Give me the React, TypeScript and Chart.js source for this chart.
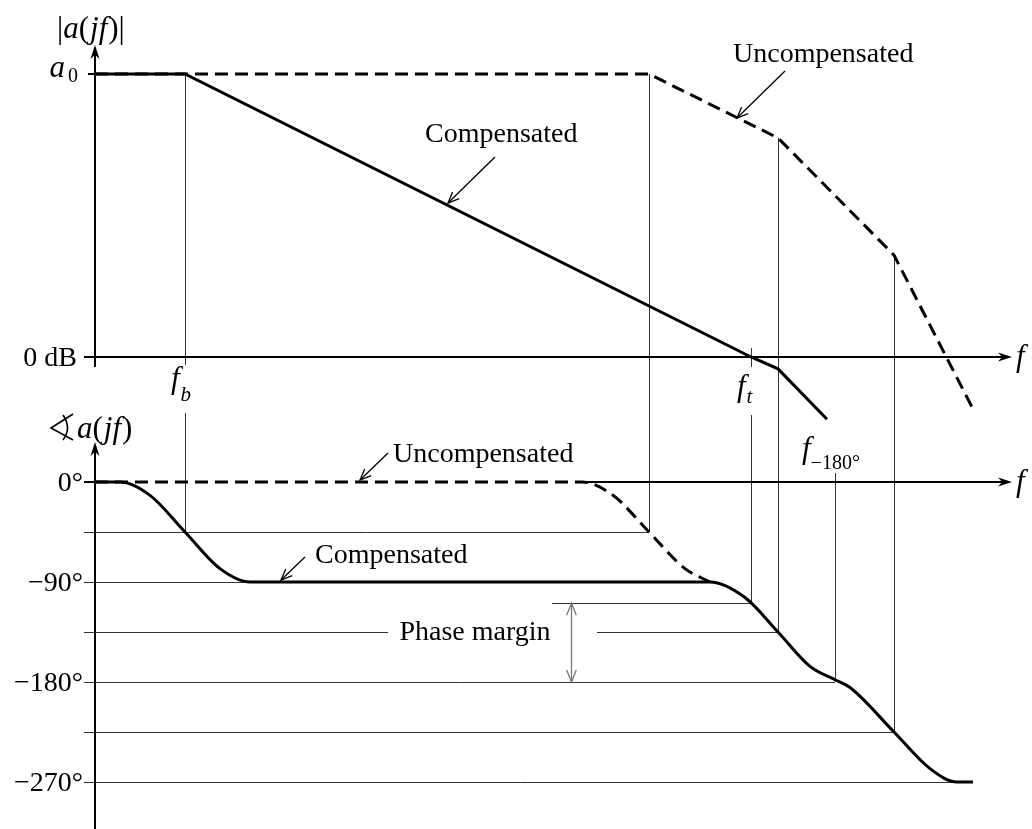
import { useEffect, useRef } from 'react';
import { Chart, registerables } from 'chart.js';

Chart.register(...registerables);

// Horizontal axis: log10 of frequency, in decades from the origin.
// Magnitude in dB, phase in degrees.
const magCompensatedFreq = [0, 0.9, 6.56, 6.83, 7.32];
const magCompensatedDb = [100, 100, 0, -4.2, -22];
const magUncompensatedFreq = [0, 0.9, 5.54, 6.83, 7.99, 8.77];
const magUncompensatedDb = [100, 100, 100, 77.4, 36, -17.7];

const phaseCompensatedFreq = [0, 0.25, 0.55, 0.9, 1.25, 1.55, 6.15, 6.5, 6.83, 7.15, 7.4, 7.55, 7.99, 8.35, 8.62, 8.78];
const phaseCompensatedDeg = [0, 0, -12, -45, -78, -90, -90, -104, -135, -166, -178, -185, -225, -258, -270, -270];
const phaseUncompensatedFreq = [0, 4.87, 5.18, 5.54, 5.9, 6.15];
const phaseUncompensatedDeg = [0, 0, -12, -45, -78, -90];

// Characteristic frequencies (log10 f)
const fB = 0.9;
const f1 = 5.54;
const fT = 6.56;
const f2 = 6.83;
const f180 = 7.4;
const f3 = 7.99;
const a0Db = 100;
const magAtF2 = 77.4;
const magAtF3 = 36;
const phaseAtFt = -109;

// Phase reference levels and their tick labels
const phaseGuideLevels = [-45, -90, -135, -180, -225, -270];
const phaseTickValues = [0, -90, -180, -270];
const phaseTickLabels = ['0°', '\u221290°', '\u2212180°', '\u2212270°'];

const SERIF = "'Liberation Serif', 'Times New Roman', 'DejaVu Serif', serif";
const FS = 28;
const MATH = 31;

type Run = { t: string; i?: boolean; size?: number; dy?: number; dx?: number };

function drawRuns(ctx: CanvasRenderingContext2D, runs: Run[], x: number, y: number, align: 'left' | 'center' | 'right' = 'left') {
  const fontFor = (r: Run) => `${r.i ? 'italic ' : ''}${r.size ?? FS}px ${SERIF}`;
  let total = 0;
  const widths = runs.map((r) => {
    ctx.font = fontFor(r);
    const w = ctx.measureText(r.t).width + (r.dx ?? 0);
    total += w;
    return w;
  });
  let cx = align === 'left' ? x : align === 'center' ? x - total / 2 : x - total;
  ctx.textAlign = 'left';
  ctx.textBaseline = 'alphabetic';
  runs.forEach((r, k) => {
    ctx.font = fontFor(r);
    ctx.fillText(r.t, cx + (r.dx ?? 0), y + (r.dy ?? 0));
    cx += widths[k];
  });
}

function seg(ctx: CanvasRenderingContext2D, x1: number, y1: number, x2: number, y2: number) {
  ctx.beginPath();
  ctx.moveTo(x1, y1);
  ctx.lineTo(x2, y2);
  ctx.stroke();
}

function openHead(ctx: CanvasRenderingContext2D, fx: number, fy: number, tx: number, ty: number, len = 11, spread = 0.4) {
  const a = Math.atan2(ty - fy, tx - fx);
  ctx.beginPath();
  ctx.moveTo(tx - len * Math.cos(a - spread), ty - len * Math.sin(a - spread));
  ctx.lineTo(tx, ty);
  ctx.lineTo(tx - len * Math.cos(a + spread), ty - len * Math.sin(a + spread));
  ctx.stroke();
}

function solidHead(ctx: CanvasRenderingContext2D, dirX: number, dirY: number, tx: number, ty: number, len = 14, half = 4.5) {
  const nx = -dirY;
  const ny = dirX;
  ctx.beginPath();
  ctx.moveTo(tx, ty);
  ctx.lineTo(tx - dirX * len + nx * half, ty - dirY * len + ny * half);
  ctx.lineTo(tx - dirX * len * 0.7, ty - dirY * len * 0.7);
  ctx.lineTo(tx - dirX * len - nx * half, ty - dirY * len - ny * half);
  ctx.closePath();
  ctx.fill();
}

// Measured-angle sign: a "<" with an arc across its legs
function angleSign(ctx: CanvasRenderingContext2D, x: number, yMid: number) {
  ctx.save();
  ctx.lineWidth = 1.6;
  ctx.beginPath();
  ctx.moveTo(x + 23, yMid - 14);
  ctx.lineTo(x + 1, yMid);
  ctx.lineTo(x + 23, yMid + 12);
  ctx.stroke();
  ctx.beginPath();
  ctx.moveTo(x + 13, yMid - 13);
  ctx.quadraticCurveTo(x + 22, yMid, x + 13, yMid + 12);
  ctx.stroke();
  ctx.restore();
}

const bodeDecor = {
  id: 'bodeDecor',
  beforeDatasetsDraw(chart: any) {
    const ctx: CanvasRenderingContext2D = chart.ctx;
    const { x: sx, yMag: sm, yPhase: sp } = chart.scales;
    const X = (v: number) => sx.getPixelForValue(v);
    const M = (v: number) => sm.getPixelForValue(v);
    const P = (v: number) => sp.getPixelForValue(v);
    const c = (v: number) => Math.round(v) + 0.5;
    const ax = Math.round(X(0));
    const left = ax - 11;
    const bottom = chart.chartArea.bottom;

    ctx.save();
    // thin construction lines
    ctx.strokeStyle = '#333';
    ctx.lineWidth = 1;
    const vline = (f: number, y1: number, y2: number) => seg(ctx, c(X(f)), y1, c(X(f)), y2);
    const hline = (deg: number, x1: number, x2: number) => seg(ctx, x1, c(P(deg)), x2, c(P(deg)));
    vline(fB, M(a0Db), M(0) + 8);
    vline(fB, P(0) - 69, P(-45));
    vline(f1, M(a0Db), P(-45));
    vline(fT, M(0) - 9, M(0) + 10);
    vline(fT, M(0) + 58, P(phaseAtFt));
    vline(f2, M(magAtF2), P(-135));
    vline(f180, P(0) - 9, P(-180));
    vline(f3, M(magAtF3), P(-225));

    const guideEnds = [f1, 1.55, f2, f180, f3, 8.62];
    phaseGuideLevels.forEach((deg, k) => {
      if (deg === -135) {
        hline(deg, left, ax + 293);
        hline(deg, ax + 502, X(guideEnds[k]));
      } else {
        hline(deg, left, X(guideEnds[k]));
      }
    });
    hline(phaseAtFt, X(fT) - 199, X(fT));

    // axes
    ctx.strokeStyle = '#000';
    ctx.fillStyle = '#000';
    ctx.lineWidth = 2;
    const axEnd = X(9.17);
    // magnitude
    const magTip = M(a0Db) - 29;
    seg(ctx, ax, M(0) + 10, ax, magTip + 8);
    solidHead(ctx, 0, -1, ax, magTip);
    seg(ctx, left, M(0), axEnd - 8, M(0));
    solidHead(ctx, 1, 0, axEnd, M(0));
    seg(ctx, ax - 7, M(a0Db), ax, M(a0Db));
    // phase
    const phaseTip = P(0) - 40;
    seg(ctx, ax, bottom, ax, phaseTip + 8);
    solidHead(ctx, 0, -1, ax, phaseTip);
    seg(ctx, left, P(0), ax, P(0));
    seg(ctx, X(4.87), P(0), axEnd - 8, P(0));
    solidHead(ctx, 1, 0, axEnd, P(0));

    // phase margin arrow
    const pmX = c(X(fT) - 180);
    ctx.strokeStyle = '#777';
    ctx.lineWidth = 1.3;
    seg(ctx, pmX, P(phaseAtFt), pmX, P(-180));
    openHead(ctx, pmX, P(-180), pmX, P(phaseAtFt), 13, 0.38);
    openHead(ctx, pmX, P(phaseAtFt), pmX, P(-180), 13, 0.38);
    ctx.restore();
  },
  afterDatasetsDraw(chart: any) {
    const ctx: CanvasRenderingContext2D = chart.ctx;
    const { x: sx, yMag: sm, yPhase: sp } = chart.scales;
    const X = (v: number) => sx.getPixelForValue(v);
    const M = (v: number) => sm.getPixelForValue(v);
    const P = (v: number) => sp.getPixelForValue(v);
    const ax = X(0);

    ctx.save();
    ctx.fillStyle = '#000';
    ctx.strokeStyle = '#000';

    // axis titles
    drawRuns(ctx, [{ t: '|', size: MATH }, { t: 'a', i: true, size: MATH }, { t: '(', size: MATH }, { t: 'jf', i: true, size: MATH, dx: 1 }, { t: ')', size: MATH, dx: 1 }, { t: '|', size: MATH }], 57, 38);
    angleSign(ctx, 50, 428);
    drawRuns(ctx, [{ t: 'a', i: true, size: MATH }, { t: '(', size: MATH }, { t: 'jf', i: true, size: MATH, dx: 1 }, { t: ')', size: MATH, dx: 1 }], 77, 438);

    // magnitude ticks
    drawRuns(ctx, [{ t: 'a', i: true, size: MATH }, { t: '0', size: 20, dx: 3, dy: 5 }], ax - 17, M(a0Db) + 3, 'right');
    drawRuns(ctx, [{ t: '0 dB' }], ax - 18, M(0) + 9, 'right');

    // phase ticks
    phaseTickValues.forEach((v, k) => {
      drawRuns(ctx, [{ t: phaseTickLabels[k] }], ax - 12, P(v) + 9, 'right');
    });

    // frequency markers
    drawRuns(ctx, [{ t: 'f', i: true, size: MATH }, { t: 'b', i: true, size: 21, dy: 13, dx: 1 }], X(fB) - 14, M(0) + 31);
    drawRuns(ctx, [{ t: 'f', i: true, size: MATH }, { t: 't', i: true, size: 21, dy: 7, dx: 1 }], X(fT) - 14, M(0) + 39);
    drawRuns(ctx, [{ t: 'f', i: true, size: MATH }, { t: '\u2212180°', size: 20, dy: 11, dx: 0 }], X(f180) - 33, P(0) - 24);
    drawRuns(ctx, [{ t: 'f', i: true, size: MATH }], X(9.17) + 4, M(0) + 9);
    drawRuns(ctx, [{ t: 'f', i: true, size: MATH }], X(9.17) + 4, P(0) + 9);

    // annotations
    drawRuns(ctx, [{ t: 'Compensated' }], 425, 142);
    drawRuns(ctx, [{ t: 'Uncompensated' }], 733, 62);
    drawRuns(ctx, [{ t: 'Uncompensated' }], 393, 462);
    drawRuns(ctx, [{ t: 'Compensated' }], 315, 563);
    drawRuns(ctx, [{ t: 'Phase margin' }], 475, 640, 'center');

    ctx.lineWidth = 1.3;
    const arrow = (x1: number, y1: number, x2: number, y2: number) => {
      seg(ctx, x1, y1, x2, y2);
      openHead(ctx, x1, y1, x2, y2, 12, 0.4);
    };
    arrow(495, 157, 448, 203);
    arrow(785, 71, 737, 118);
    arrow(388, 453, 360, 480);
    arrow(305, 557, 281, 580);
    ctx.restore();
  },
};

const points = (xs: number[], ys: number[]) => xs.map((x, k) => ({ x, y: ys[k] }));

export default function App() {
  const canvasRef = useRef<HTMLCanvasElement | null>(null);

  useEffect(() => {
    document.body.style.margin = '0';
    const canvas = canvasRef.current;
    if (!canvas) return;
    const common = {
      borderColor: '#000',
      borderWidth: 3,
      pointRadius: 0,
      fill: false,
      borderCapStyle: 'butt' as const,
      borderJoinStyle: 'miter' as const,
    };
    const chart = new Chart(canvas, {
      type: 'line',
      data: {
        datasets: [
          { ...common, label: 'Compensated |a(jf)|', data: points(magCompensatedFreq, magCompensatedDb), yAxisID: 'yMag', tension: 0 },
          { ...common, label: 'Uncompensated |a(jf)|', data: points(magUncompensatedFreq, magUncompensatedDb), yAxisID: 'yMag', tension: 0, borderDash: [13, 7] },
          { ...common, label: 'Compensated phase', data: points(phaseCompensatedFreq, phaseCompensatedDeg), yAxisID: 'yPhase', cubicInterpolationMode: 'monotone' },
          { ...common, label: 'Uncompensated phase', data: points(phaseUncompensatedFreq, phaseUncompensatedDeg), yAxisID: 'yPhase', cubicInterpolationMode: 'monotone', borderDash: [13, 7] },
        ],
      },
      options: {
        responsive: false,
        animation: false,
        devicePixelRatio: 1,
        layout: { padding: 0 },
        events: [],
        plugins: { legend: { display: false }, tooltip: { enabled: false } },
        scales: {
          x: { type: 'linear', min: -0.95, max: 9.37, display: false },
          yMag: { type: 'linear', min: -166.8, max: 126.15, display: false },
          yPhase: { type: 'linear', min: -312.3, max: 433.8, display: false },
        },
      },
      plugins: [bodeDecor],
    } as any);
    return () => chart.destroy();
  }, []);

  return (
    <div style={{ width: 1032, height: 829, background: '#fff' }}>
      <canvas ref={canvasRef} width={1032} height={829} style={{ display: 'block' }} />
    </div>
  );
}
